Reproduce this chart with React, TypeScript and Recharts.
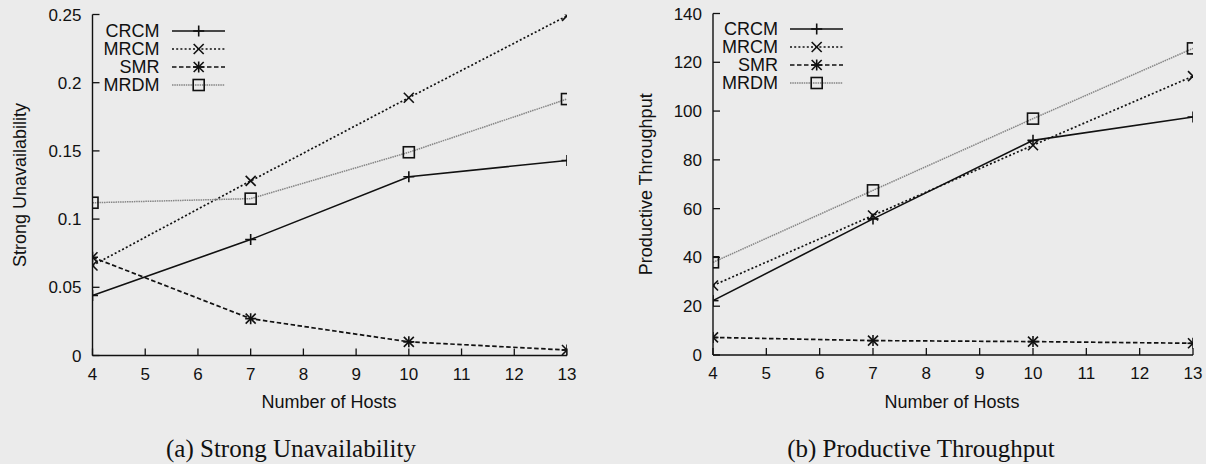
import React from 'react';
import { LineChart, Line, XAxis, YAxis, Legend } from 'recharts';

const hosts = [4, 7, 10, 13];
const seriesNames = ['CRCM', 'MRCM', 'SMR', 'MRDM'];
const xTicks = [4, 5, 6, 7, 8, 9, 10, 11, 12, 13];

const unavailCRCM = [0.044, 0.085, 0.131, 0.143];
const unavailMRCM = [0.066, 0.128, 0.189, 0.249];
const unavailSMR = [0.072, 0.027, 0.010, 0.004];
const unavailMRDM = [0.112, 0.115, 0.149, 0.188];
const unavailTicks = [0, 0.05, 0.1, 0.15, 0.2, 0.25];

const thrCRCM = [22.3, 55.8, 88, 97.6];
const thrMRCM = [28.5, 57.2, 86, 114.3];
const thrSMR = [7.2, 5.9, 5.5, 4.8];
const thrMRDM = [38, 67.5, 96.9, 125.7];
const thrTicks = [0, 20, 40, 60, 80, 100, 120, 140];

const unavailData = hosts.map((h, i) => ({
  hosts: h,
  CRCM: unavailCRCM[i],
  MRCM: unavailMRCM[i],
  SMR: unavailSMR[i],
  MRDM: unavailMRDM[i],
}));
const thrData = hosts.map((h, i) => ({
  hosts: h,
  CRCM: thrCRCM[i],
  MRCM: thrMRCM[i],
  SMR: thrSMR[i],
  MRDM: thrMRDM[i],
}));

const INK = '#111111';
const SANS = '"Liberation Sans", Arial, Helvetica, sans-serif';
const SERIF = '"Liberation Serif", "Times New Roman", serif';
const FS = 17;
const TITLE_FS = 18;
const LEG_FS = 18;

type Style = { stroke: string; width: number; dash?: string; marker: string };
const styles: Record<string, Style> = {
  CRCM: { stroke: INK, width: 1.6, marker: 'plus' },
  MRCM: { stroke: INK, width: 1.7, dash: '2 2.2', marker: 'cross' },
  SMR: { stroke: INK, width: 1.7, dash: '4.5 2.5', marker: 'star' },
  MRDM: { stroke: '#858585', width: 1.5, dash: '1.5 0.8', marker: 'square' },
};

function Marker({ kind, cx, cy }: { kind: string; cx: number; cy: number }) {
  const s = 5.5;
  const c = 5;
  const p = { stroke: INK, strokeWidth: 1.6, fill: 'none' };
  if (kind === 'plus') {
    return (
      <g>
        <line x1={cx - s} y1={cy} x2={cx + s} y2={cy} {...p} />
        <line x1={cx} y1={cy - s} x2={cx} y2={cy + s} {...p} />
      </g>
    );
  }
  if (kind === 'cross') {
    return (
      <g>
        <line x1={cx - c} y1={cy - c} x2={cx + c} y2={cy + c} {...p} />
        <line x1={cx - c} y1={cy + c} x2={cx + c} y2={cy - c} {...p} />
      </g>
    );
  }
  if (kind === 'star') {
    return (
      <g>
        <line x1={cx - s} y1={cy} x2={cx + s} y2={cy} {...p} />
        <line x1={cx} y1={cy - s} x2={cx} y2={cy + s} {...p} />
        <line x1={cx - c} y1={cy - c} x2={cx + c} y2={cy + c} {...p} />
        <line x1={cx - c} y1={cy + c} x2={cx + c} y2={cy - c} {...p} />
      </g>
    );
  }
  return <rect x={cx - 5.5} y={cy - 5.5} width={11} height={11} {...p} />;
}

const makeDot = (kind: string) => (props: any) => {
  const { cx, cy, index } = props;
  if (cx == null || cy == null) return <g key={`d-${kind}-${index}`} />;
  return <Marker key={`d-${kind}-${index}`} kind={kind} cx={cx} cy={cy} />;
};

const BottomTick = (props: any) => {
  const { x, y, payload } = props;
  return (
    <g>
      <line x1={x} y1={y} x2={x} y2={y - 7} stroke={INK} strokeWidth={1.3} />
      <text x={x} y={y + 24} textAnchor="middle" fontFamily={SANS} fontSize={FS} fill={INK}>
        {payload.value}
      </text>
    </g>
  );
};
const TopTick = (props: any) => {
  const { x, y } = props;
  return <line x1={x} y1={y} x2={x} y2={y + 7} stroke={INK} strokeWidth={1.3} />;
};
const LeftTick = (props: any) => {
  const { x, y, payload } = props;
  return (
    <g>
      <line x1={x} y1={y} x2={x + 7} y2={y} stroke={INK} strokeWidth={1.3} />
      <text x={x - 11} y={y + 6} textAnchor="end" fontFamily={SANS} fontSize={FS} fill={INK}>
        {String(payload.value)}
      </text>
    </g>
  );
};
const RightTick = (props: any) => {
  const { x, y } = props;
  return <line x1={x} y1={y} x2={x - 7} y2={y} stroke={INK} strokeWidth={1.3} />;
};

const makeLegend = (textWidth: number) => () => (
  <div style={{ fontFamily: SANS, fontSize: LEG_FS, color: INK }}>
    {seriesNames.map((name) => {
      const st = styles[name];
      return (
        <div key={name} style={{ display: 'flex', alignItems: 'center', height: 18.1 }}>
          <div style={{ width: textWidth, textAlign: 'right', lineHeight: '18.1px' }}>{name}</div>
          <svg width={65} height={18} style={{ display: 'block' }}>
            <line
              x1={12}
              y1={9}
              x2={65}
              y2={9}
              stroke={st.stroke}
              strokeWidth={st.width}
              strokeDasharray={st.dash}
            />
            <Marker kind={st.marker} cx={38.7} cy={9} />
          </svg>
        </div>
      );
    })}
  </div>
);

type PanelProps = {
  data: any[];
  width: number;
  height: number;
  margin: { top: number; right: number; bottom: number; left: number };
  yAxisWidth: number;
  yDomain: [number, number];
  yTicks: number[];
  yTitle: string;
  yTitleX: number;
  xTitleX: number;
  legendLeft: number;
  legendTop: number;
  legendTextWidth: number;
};

function Panel(p: PanelProps) {
  const plotTop = p.margin.top;
  const plotBottom = p.height - p.margin.bottom - 60;
  const yMid = (plotTop + plotBottom) / 2;
  return (
    <LineChart width={p.width} height={p.height} data={p.data} margin={p.margin}>
      <XAxis
        xAxisId="b"
        dataKey="hosts"
        type="number"
        domain={[4, 13]}
        ticks={xTicks}
        interval={0}
        height={60}
        tickSize={0}
        tickMargin={0}
        tickLine={false}
        axisLine={{ stroke: INK, strokeWidth: 1.4 }}
        tick={BottomTick}
        allowDataOverflow
        label={{
          content: () => (
            <text x={p.xTitleX} y={plotBottom + 52.5} textAnchor="middle" fontFamily={SANS} fontSize={TITLE_FS} fill={INK}>
              Number of Hosts
            </text>
          ),
        }}
      />
      <XAxis
        xAxisId="t"
        orientation="top"
        dataKey="hosts"
        type="number"
        domain={[4, 13]}
        ticks={xTicks}
        interval={0}
        height={0}
        tickSize={0}
        tickMargin={0}
        tickLine={false}
        axisLine={{ stroke: INK, strokeWidth: 1.4 }}
        tick={TopTick}
        allowDataOverflow
      />
      <YAxis
        yAxisId="l"
        type="number"
        domain={p.yDomain}
        ticks={p.yTicks}
        interval={0}
        width={p.yAxisWidth}
        tickSize={0}
        tickMargin={0}
        tickLine={false}
        axisLine={{ stroke: INK, strokeWidth: 1.4 }}
        tick={LeftTick}
        allowDataOverflow
        label={{
          content: () => (
            <text
              x={p.yTitleX}
              y={yMid}
              transform={`rotate(-90, ${p.yTitleX}, ${yMid})`}
              textAnchor="middle"
              dominantBaseline="central"
              fontFamily={SANS}
              fontSize={TITLE_FS}
              fill={INK}
            >
              {p.yTitle}
            </text>
          ),
        }}
      />
      <YAxis
        yAxisId="r"
        orientation="right"
        type="number"
        domain={p.yDomain}
        ticks={p.yTicks}
        interval={0}
        width={0}
        tickSize={0}
        tickMargin={0}
        tickLine={false}
        axisLine={{ stroke: INK, strokeWidth: 1.4 }}
        tick={RightTick}
        allowDataOverflow
      />
      <Legend
        layout="vertical"
        align="center"
        verticalAlign="middle"
        wrapperStyle={{ left: p.legendLeft, top: p.legendTop, width: 'auto', right: 'auto', bottom: 'auto' }}
        content={makeLegend(p.legendTextWidth)}
      />
      {seriesNames.map((name) => {
        const st = styles[name];
        return (
          <Line
            key={name}
            xAxisId="b"
            yAxisId="l"
            type="linear"
            dataKey={name}
            name={name}
            stroke={st.stroke}
            strokeWidth={st.width}
            strokeDasharray={st.dash}
            dot={makeDot(st.marker)}
            activeDot={false}
            isAnimationActive={false}
          />
        );
      })}
    </LineChart>
  );
}

export default function App() {
  return (
    <div
      style={{
        position: 'absolute',
        left: 0,
        top: 0,
        width: 1206,
        height: 464,
        background: '#ebebeb',
        overflow: 'hidden',
      }}
    >
      <div style={{ position: 'absolute', left: 0, top: 0 }}>
        <Panel
          data={unavailData}
          width={600}
          height={464}
          margin={{ top: 14.5, right: 33, bottom: 48.5, left: 0 }}
          yAxisWidth={92.5}
          yDomain={[0, 0.25]}
          yTicks={unavailTicks}
          yTitle="Strong Unavailability"
          yTitleX={20}
          xTitleX={329}
          legendLeft={98}
          legendTop={21.5}
          legendTextWidth={61.5}
        />
      </div>
      <div style={{ position: 'absolute', left: 600, top: 0 }}>
        <Panel
          data={thrData}
          width={606}
          height={464}
          margin={{ top: 13.5, right: 13, bottom: 49, left: 0 }}
          yAxisWidth={113}
          yDomain={[0, 140]}
          yTicks={thrTicks}
          yTitle="Productive Throughput"
          yTitleX={46}
          xTitleX={352}
          legendLeft={108}
          legendTop={19.5}
          legendTextWidth={70}
        />
      </div>
      <div
        style={{
          position: 'absolute',
          left: 91,
          width: 400,
          top: 434,
          textAlign: 'center',
          fontFamily: SERIF,
          fontSize: 25,
          color: INK,
          lineHeight: '30px',
        }}
      >
        (a) Strong Unavailability
      </div>
      <div
        style={{
          position: 'absolute',
          left: 721,
          width: 400,
          top: 434,
          textAlign: 'center',
          fontFamily: SERIF,
          fontSize: 25,
          color: INK,
          lineHeight: '30px',
        }}
      >
        (b) Productive Throughput
      </div>
    </div>
  );
}
